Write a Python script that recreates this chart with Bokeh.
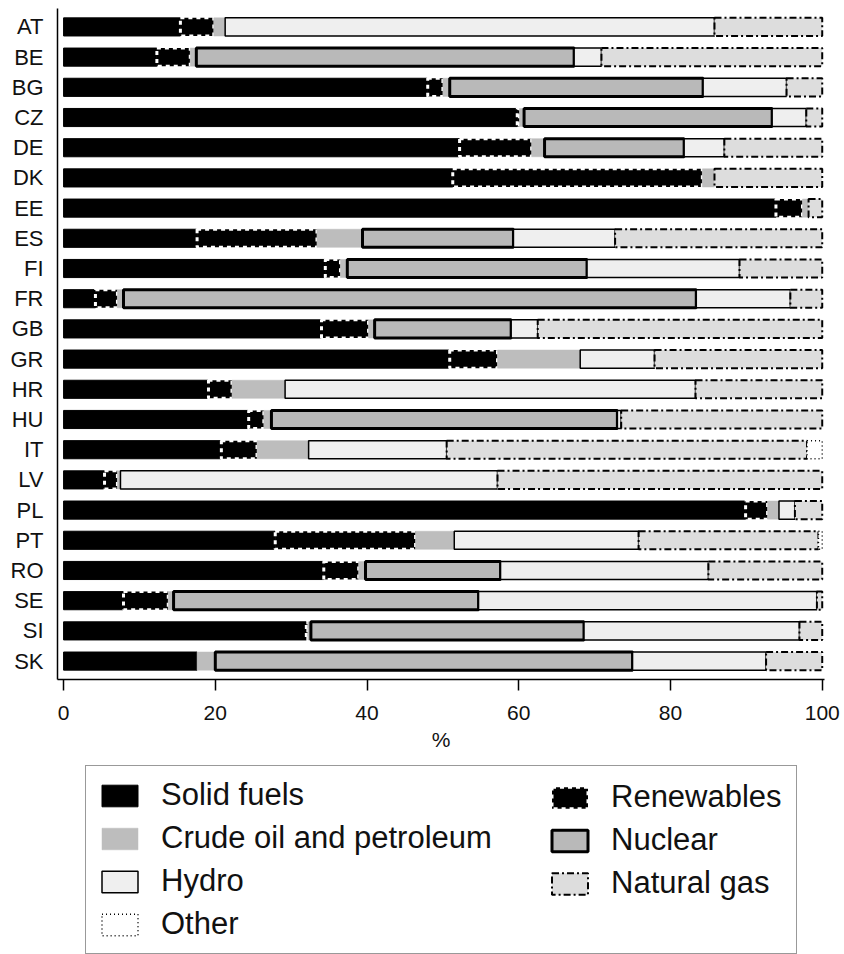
from bokeh.plotting import figure
from bokeh.layouts import column
from bokeh.models import (ColumnDataSource, FactorRange, Range1d, FixedTicker,
                          Legend, LegendItem)
from bokeh.embed import file_html
from bokeh.resources import INLINE

countries = ["AT", "BE", "BG", "CZ", "DE", "DK", "EE", "ES", "FI", "FR", "GB",
             "GR", "HR", "HU", "IT", "LV", "PL", "PT", "RO", "SE", "SI", "SK"]

solid_fuels = [15.4, 12.3, 48.0, 59.8, 52.2, 51.3, 93.9, 17.6, 34.5, 4.2, 34.0,
               50.9, 19.1, 24.4, 20.8, 5.4, 89.9, 27.9, 34.3, 7.9, 32.0, 17.6]
renewables = [4.4, 4.4, 2.0, 0.3, 9.5, 32.9, 3.5, 15.8, 2.0, 2.9, 6.2,
              6.3, 3.1, 2.0, 4.7, 1.7, 2.9, 18.5, 4.6, 5.9, 0.2, 0.0]
crude_oil = [1.5, 0.8, 0.9, 0.6, 1.7, 1.6, 0.8, 6.0, 0.9, 0.8, 0.8,
             10.9, 7.0, 1.0, 6.8, 0.4, 1.5, 5.1, 0.9, 0.7, 0.4, 2.4]
nuclear = [0.0, 49.8, 33.4, 32.7, 18.4, 0.0, 0.0, 19.9, 31.6, 75.5, 18.0,
           0.0, 0.0, 45.6, 0.0, 0.0, 0.0, 0.0, 17.8, 40.2, 36.0, 55.0]
hydro = [64.5, 3.6, 11.0, 4.5, 5.3, 0.0, 0.0, 13.4, 20.1, 12.4, 3.5,
         9.8, 54.1, 0.5, 18.2, 49.7, 2.1, 24.3, 27.4, 44.6, 28.4, 17.6]
natural_gas = [14.2, 29.1, 4.7, 2.1, 12.9, 14.2, 1.8, 27.3, 10.9, 4.2, 37.5,
               22.1, 16.7, 26.5, 47.5, 42.8, 3.6, 23.7, 15.0, 0.7, 3.0, 7.4]
other = [0.0, 0.0, 0.0, 0.0, 0.0, 0.0, 0.0, 0.0, 0.0, 0.0, 0.0,
         0.0, 0.0, 0.0, 2.0, 0.0, 0.0, 0.5, 0.0, 0.0, 0.0, 0.0]

x_ticks = [0, 20, 40, 60, 80, 100]
x_label = "%"

# stacking order along the bar
series = [
    ("Solid fuels", solid_fuels),
    ("Renewables", renewables),
    ("Crude oil and petroleum", crude_oil),
    ("Nuclear", nuclear),
    ("Hydro", hydro),
    ("Natural gas", natural_gas),
    ("Other", other),
]

styles = {
    "Solid fuels": dict(fill_color="#000000", line_color="#000000", line_width=1),
    "Renewables": dict(fill_color="#000000", line_color="#ffffff", line_width=3,
                       line_dash="4 4"),
    "Crude oil and petroleum": dict(fill_color="#bdbdbd", line_color="#bdbdbd",
                                    line_width=0.5),
    "Nuclear": dict(fill_color="#b9b9b9", line_color="#000000", line_width=3),
    "Hydro": dict(fill_color="#efefef", line_color="#000000", line_width=1.5),
    "Natural gas": dict(fill_color="#dddddd", line_color="#000000", line_width=2,
                        line_dash="7 3 2 3"),
    "Other": dict(fill_color="#ffffff", line_color="#000000", line_width=1.5,
                  line_dash="1 3"),
}

FONT = "Liberation Sans"
BORDER_L, BORDER_R = 57, 20

p = figure(width=844, height=764, output_backend="svg", toolbar_location=None,
           y_range=FactorRange(*reversed(countries), range_padding=0.11,
                               range_padding_units="absolute"),
           x_range=Range1d(-0.8, 100.3),
           min_border_left=BORDER_L, min_border_right=BORDER_R, min_border_top=8,
           min_border_bottom=85)
p.outline_line_color = None
p.xgrid.visible = False
p.ygrid.visible = False
p.background_fill_color = "white"

sources = {}
base = [0.0] * len(countries)
for name, vals in series:
    ys, lefts, rights = [], [], []
    for c, b, v in zip(countries, base, vals):
        if v > 0:
            ys.append(c)
            lefts.append(b)
            rights.append(b + v)
    base = [b + v for b, v in zip(base, vals)]
    src = ColumnDataSource(dict(y=ys, left=lefts, right=rights))
    sources[name] = src
    p.hbar(y="y", left="left", right="right", height=0.6, source=src,
           **styles[name])

# axes
xa = p.xaxis[0]
xa.ticker = FixedTicker(ticks=x_ticks)
xa.minor_tick_line_color = None
xa.major_tick_in = 0
xa.major_tick_out = 11
xa.major_tick_line_width = 1.5
xa.axis_line_width = 1.5
xa.axis_line_color = "#000000"
xa.major_tick_line_color = "#000000"
xa.major_label_text_font = FONT
xa.major_label_text_font_size = "21px"
xa.major_label_text_color = "#111111"
xa.major_label_standoff = 15
xa.axis_label = x_label
xa.axis_label_text_font = FONT
xa.axis_label_text_font_size = "21px"
xa.axis_label_text_font_style = "normal"
xa.axis_label_text_color = "#111111"
xa.axis_label_standoff = 5

ya = p.yaxis[0]
ya.major_tick_in = 0
ya.major_tick_out = 0
ya.minor_tick_line_color = None
ya.major_tick_line_color = None
ya.axis_line_width = 1.5
ya.axis_line_color = "#000000"
ya.major_label_text_font = FONT
ya.major_label_text_font_size = "22px"
ya.major_label_text_color = "#111111"
ya.major_label_standoff = 14

# legend panel (separate figure below the chart); its ranges show none of the bars
lf = figure(width=844, height=190, output_backend="svg", toolbar_location=None,
            x_range=Range1d(150, 250), y_range=FactorRange(" "),
            x_axis_type=None, y_axis_type=None,
            min_border_left=BORDER_L, min_border_right=BORDER_R,
            min_border_top=0, min_border_bottom=0)
lf.outline_line_color = None
lf.xgrid.visible = False
lf.ygrid.visible = False

legend_renderers = {}
for name, _ in series:
    legend_renderers[name] = lf.hbar(y="y", left="left", right="right",
                                     height=0.6, source=sources[name],
                                     **styles[name])

common = dict(glyph_width=45, glyph_height=27, label_standoff=19,
              label_height=36, spacing=7, padding=11, margin=0,
              label_text_font=FONT, label_text_font_size="31px",
              label_text_color="#111111")

left_names = ["Solid fuels", "Crude oil and petroleum", "Hydro", "Other"]
right_names = ["Renewables", "Nuclear", "Natural gas"]

leg1 = Legend(items=[LegendItem(label=n, renderers=[legend_renderers[n]])
                     for n in left_names],
              location=(28, 0), label_width=624,
              border_line_color="#333333", border_line_width=1.5,
              background_fill_color="white", background_fill_alpha=1.0, **common)
leg2 = Legend(items=[LegendItem(label=n, renderers=[legend_renderers[n]])
                     for n in right_names],
              location=(490, 53), label_width=178,
              border_line_color=None, background_fill_alpha=0.0, **common)
lf.add_layout(leg1, "center")
lf.add_layout(leg2, "center")

layout = column(p, lf, spacing=0)
open("out.html", "w").write(file_html(layout, INLINE))
